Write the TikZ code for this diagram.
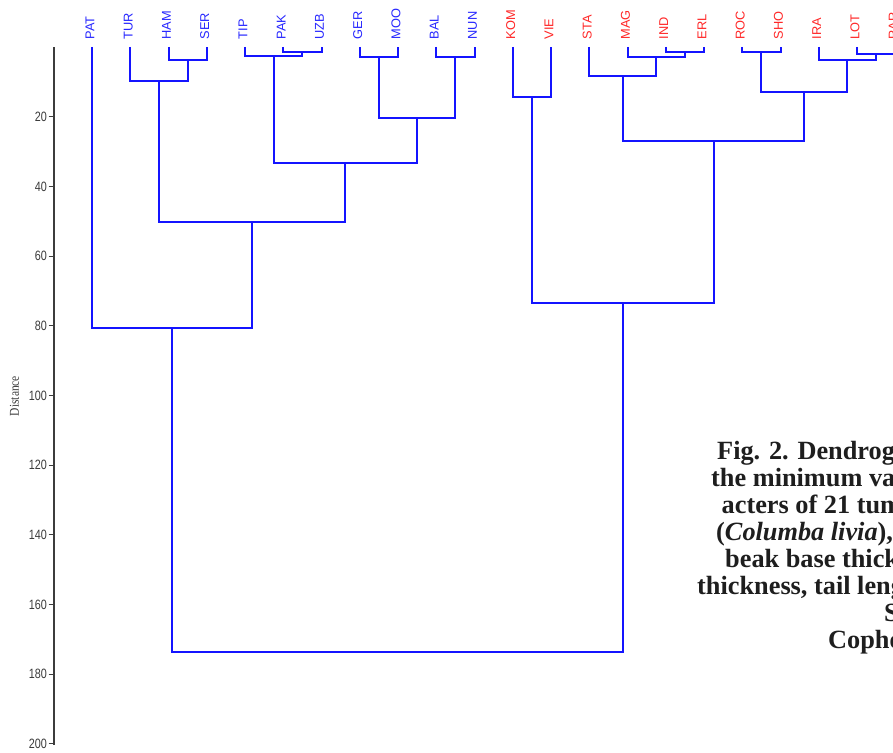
\documentclass[tikz,border=0pt]{standalone}
\usepackage{fontspec}
\setmainfont{Liberation Serif}
\newfontfamily\leaffont{Liberation Sans}
\newfontfamily\tickfont[FakeStretch=0.8]{Liberation Sans}
\newfontfamily\axisfont[FakeStretch=0.85]{Liberation Serif}
\definecolor{treeblue}{RGB}{20,20,255}
\definecolor{grpblue}{RGB}{40,40,255}
\definecolor{grpred}{RGB}{255,40,40}
\definecolor{axisgray}{RGB}{60,60,60}
\definecolor{capblack}{RGB}{30,30,30}
\tikzset{
  branch/.style={draw=treeblue, line width=2pt, line join=miter},
  leaf/.style={rotate=90, anchor=base west, inner sep=0pt, font=\leaffont\fontsize{12.8}{12.8}\selectfont},
  blueleaf/.style={leaf, text=grpblue},
  redleaf/.style={leaf, text=grpred},
  ticklabel/.style={anchor=east, inner sep=0pt, text=axisgray, font=\tickfont\fontsize{13.5}{13.5}\selectfont},
  capline/.style={anchor=base west, inner sep=0pt, text=capblack, font=\bfseries\fontsize{26.3}{26.3}\selectfont},
}
\begin{document}
\begin{tikzpicture}[x=1pt,y=-1pt]
\useasboundingbox (0,0) rectangle (893,752);
\fill[white] (0,0) rectangle (893,752);
\begin{scope}
\clip (0,0) rectangle (893,752);

% distance axis
\draw[axisgray, line width=1.1pt] (54,47.5) coordinate (axtop) -- (54,744.5) coordinate (axbot);
\foreach \d in {20,40,...,200} {
  \pgfmathsetmacro{\yy}{47.3+3.483*\d}
  \draw[axisgray, line width=1pt] (48.5,\yy) -- (54.5,\yy);
  \node[ticklabel] (t\d) at (47,\yy) {\d};
}
\node[rotate=90, inner sep=0pt, text=axisgray, font=\axisfont\fontsize{13.5}{13.5}\selectfont] (axlabel) at (14.5,396) {Distance};

% leaves (distance 0)
\foreach \name/\xx in {pat/92,tur/130.25,ham/168.5,ser/206.75,tip/245,pak/283.25,uzb/321.5,ger/359.75,moo/398,bal/436.25,nun/474.5,kom/512.75,vie/551,sta/589.25,mag/627.5,ind/665.75,erl/704,roc/742.25,sho/780.5,ira/818.75,lot/857,rar/895.25}
  \coordinate (\name) at (\xx,47);

% leaf labels
\foreach \name/\txt in {pat/PAT,tur/TUR,ham/HAM,ser/SER,tip/TIP,pak/PAK,uzb/UZB,ger/GER,moo/MOO,bal/BAL,nun/NUN}
  \node[blueleaf] (lb\name) at ([xshift=2.3pt,yshift=7.5pt]\name) {\txt};
\foreach \name/\txt in {kom/KOM,vie/VIE,sta/STA,mag/MAG,ind/IND,erl/ERL,roc/ROC,sho/SHO,ira/IRA,lot/LOT,rar/RAR}
  \node[redleaf] (lb\name) at ([xshift=2.3pt,yshift=7.5pt]\name) {\txt};

% merge points
\coordinate (hs)   at (187.63,60);
\coordinate (t3)   at (158.94,81);
\coordinate (pu)   at (302.38,52);
\coordinate (tpu)  at (273.69,56);
\coordinate (gm)   at (378.88,57);
\coordinate (bn)   at (455.38,57);
\coordinate (gb)   at (417.13,118);
\coordinate (tg)   at (345.41,163);
\coordinate (tt)   at (252.17,222);
\coordinate (pa)   at (172.09,328);
\coordinate (kv)   at (531.88,97);
\coordinate (ie)   at (684.88,52);
\coordinate (mie)  at (656.19,57);
\coordinate (smie) at (622.72,76);
\coordinate (rs)   at (761.38,52);
\coordinate (lr)   at (876.13,54);
\coordinate (ilr)  at (847.44,60);
\coordinate (ri)   at (804.41,92);
\coordinate (sr)   at (713.56,141);
\coordinate (ks)   at (622.72,303);
\coordinate (root) at (397.4,652);

% branches
\foreach \a/\p/\b in {ham/hs/ser, tur/t3/hs, pak/pu/uzb, tip/tpu/pu, ger/gm/moo, bal/bn/nun, gm/gb/bn, tpu/tg/gb, t3/tt/tg, pat/pa/tt,
  kom/kv/vie, ind/ie/erl, mag/mie/ie, sta/smie/mie, roc/rs/sho, lot/lr/rar, ira/ilr/lr, rs/ri/ilr, smie/sr/ri, kv/ks/sr, pa/root/ks}
  \draw[branch] (\a) |- (\p) -| (\b);

% caption
\node[capline] (cap1) at (717,459) {Fig. 2. Dendrogram};
\node[capline] (cap2) at (711,486) {the minimum variance};
\node[capline] (cap3) at (721.5,513) {acters of 21 tumbler};
\node[capline] (cap4) at (716,540) {(\textit{Columba livia}),};
\node[capline] (cap5) at (725,567) {beak base thickness};
\node[capline] (cap6) at (697,594) {thickness, tail length};
\node[capline] (cap7) at (884,621) {S};
\node[capline] (cap8) at (828,648) {Cophenetic};
\end{scope}
\end{tikzpicture}
\end{document}
